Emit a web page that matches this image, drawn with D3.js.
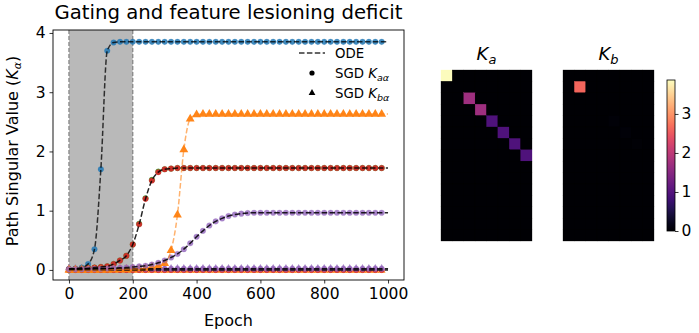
<!DOCTYPE html>
<html><head><meta charset="utf-8">
<script src="https://cdn.jsdelivr.net/npm/d3@7"></script>
<style>
html,body{margin:0;padding:0;background:#fff;}
svg{display:block;font-family:"DejaVu Sans",sans-serif;}
</style></head>
<body>
<svg id="chart" width="699" height="333"></svg>
<script>
// ---------- data ----------
const epochs = [0,20,40,60,80,100,120,140,160,180,200,220,240,260,280,300,320,340,360,380,400,420,440,460,480,500,520,540,560,580,600,620,640,660,680,700,720,740,760,780,800,820,840,860,880,900,920,940,960,980,1000];
const blueVals = [0.01,0.02,0.04,0.1,0.35,1.7,3.7,3.84,3.85,3.85,3.85,3.85,3.85,3.85,3.85,3.85,3.85,3.85,3.85,3.85,3.85,3.85,3.85,3.85,3.85,3.85,3.85,3.85,3.85,3.85,3.85,3.85,3.85,3.85,3.85,3.85,3.85,3.85,3.85,3.85,3.85,3.85,3.85,3.85,3.85,3.85,3.85,3.85,3.85,3.85,3.85];
const redVals = [0.01,0.015,0.02,0.03,0.04,0.05,0.06,0.1,0.16,0.24,0.43,0.77,1.2,1.51,1.65,1.7,1.71,1.72,1.72,1.72,1.72,1.72,1.72,1.72,1.72,1.72,1.72,1.72,1.72,1.72,1.72,1.72,1.72,1.72,1.72,1.72,1.72,1.72,1.72,1.72,1.72,1.72,1.72,1.72,1.72,1.72,1.72,1.72,1.72,1.72,1.72];
const greenVals = [0.01,0.015,0.02,0.03,0.04,0.05,0.06,0.1,0.16,0.24,0.43,0.78,1.21,1.52,1.66,1.7,1.71,1.72,1.72,1.72,1.72,1.72,1.72,1.72,1.72,1.72,1.72,1.72,1.72,1.72,1.72,1.72,1.72,1.72,1.72,1.72,1.72,1.72,1.72,1.72,1.72,1.72,1.72,1.72,1.72,1.72,1.72,1.72,1.72,1.72,1.72];
const orangeVals = [0,0,0,0,0,0,0,0.005,0.01,0.01,0.015,0.02,0.03,0.05,0.07,0.11,0.33,0.93,2.03,2.55,2.62,2.63,2.63,2.63,2.63,2.63,2.63,2.63,2.63,2.63,2.63,2.63,2.63,2.63,2.63,2.63,2.63,2.63,2.63,2.63,2.63,2.63,2.63,2.63,2.63,2.63,2.63,2.63,2.63,2.63,2.63];
const purpleVals = [0.01,0.01,0.012,0.015,0.018,0.02,0.025,0.03,0.035,0.04,0.05,0.06,0.07,0.09,0.12,0.16,0.21,0.27,0.35,0.45,0.56,0.66,0.75,0.82,0.87,0.91,0.935,0.95,0.96,0.965,0.965,0.965,0.965,0.965,0.965,0.965,0.965,0.965,0.965,0.965,0.965,0.965,0.965,0.965,0.965,0.965,0.965,0.965,0.965,0.965,0.965];
const flatPurpleA = [0.02,0.02,0.02,0.02,0.02,0.02,0.02,0.02,0.02,0.02,0.02,0.02,0.02,0.02,0.02,0.02,0.02,0.02,0.02,0.02,0.02,0.02,0.02,0.02,0.02,0.02,0.02,0.02,0.02,0.02,0.02,0.02,0.02,0.02,0.02,0.02,0.02,0.02,0.02,0.02,0.02,0.02,0.02,0.02,0.02,0.02,0.02,0.02,0.02,0.02,0.02];
const flatPurpleB = [0.03,0.03,0.03,0.03,0.03,0.03,0.03,0.03,0.03,0.03,0.03,0.03,0.03,0.03,0.03,0.03,0.03,0.03,0.03,0.03,0.03,0.03,0.03,0.03,0.03,0.03,0.03,0.03,0.03,0.03,0.03,0.03,0.03,0.03,0.03,0.03,0.03,0.03,0.03,0.03,0.03,0.03,0.03,0.03,0.03,0.03,0.03,0.03,0.03,0.03,0.03];
const flatRed = [0,0,0,0,0,0,0,0,0,0,0,0,0,0,0,0,0,0,0,0,0,0,0,0,0,0,0,0,0,0,0,0,0,0,0,0,0,0,0,0,0,0,0,0,0,0,0,0,0,0,0];
const flatOrange = [-0.01,-0.01,-0.01,-0.01,-0.01,-0.01,-0.01,-0.01,-0.01,-0.01,-0.01,-0.01,-0.01,-0.01,-0.01,-0.01,-0.01,-0.01,-0.01,-0.01,-0.01,-0.01,-0.01,-0.01,-0.01,-0.01,-0.01,-0.01,-0.01,-0.01,-0.01,-0.01,-0.01,-0.01,-0.01,-0.01,-0.01,-0.01,-0.01,-0.01,-0.01,-0.01,-0.01,-0.01,-0.01,-0.01,-0.01,-0.01,-0.01,-0.01,-0.01];
const xTicks = [0,200,400,600,800,1000];
const yTicks = [0,1,2,3,4];
const shadeRange = [0,200];
const kaDiag = [3.85,0,1.72,1.72,0.96,0.96,0.96,0.96];
const kbDiag = [0,2.63,0,0,0.05,0.05,0.04,0];
const nRows = 15, nCols = 8;
const cbarTicks = [0,1,2,3];
const cbarMax = 3.87;

// ---------- setup ----------
const svg = d3.select("#chart");
const C = {blue:"#1f77b4",orange:"#ff7f0e",green:"#2ca02c",red:"#d62728",purple:"#9467bd"};
const L = 53, R = 404, T = 30, B = 280;
const x = d3.scaleLinear().domain([-50,1050]).range([L,R]);
const y = d3.scaleLinear().domain([-0.17,4.05]).range([B,T]);
const fmt = d3.format("d");

// title
svg.append("text").attr("x",(L+R)/2).attr("y",19).attr("text-anchor","middle")
  .attr("font-size",19.7).attr("fill","#000").text("Gating and feature lesioning deficit");

// shading
const g = svg.append("g");
g.append("rect").attr("x",x(shadeRange[0])).attr("y",T).attr("width",x(shadeRange[1])-x(shadeRange[0])).attr("height",B-T)
  .attr("fill","#b9b9b9");
shadeRange.forEach(v=>{
  g.append("line").attr("x1",x(v)).attr("x2",x(v)).attr("y1",T).attr("y2",B)
   .attr("stroke","#808080").attr("stroke-width",1.2).attr("stroke-dasharray","4,2");
});

// markers
const mEpochs = epochs.slice(0,epochs.length-1);
function circles(vals,color,op){
  g.append("g").selectAll("circle").data(mEpochs).join("circle")
   .attr("cx",(d)=>x(d)).attr("cy",(d,i)=>y(vals[i])).attr("r",2.8)
   .attr("fill",color).attr("fill-opacity",op).attr("stroke",color).attr("stroke-opacity",op*0.6).attr("stroke-width",0.5);
}
function tris(vals,color,size,op){
  const sym = d3.symbol().type(d3.symbolTriangle).size(size);
  g.append("g").selectAll("path").data(mEpochs).join("path")
   .attr("transform",(d,i)=>`translate(${x(d)},${y(vals[i])})`).attr("d",sym)
   .attr("fill",color).attr("fill-opacity",op);
}
tris(flatOrange,C.orange,26,0.9);
circles(flatRed,C.red,0.9);
tris(flatPurpleB,C.purple,22,0.8);
circles(flatPurpleA,C.purple,0.8);
circles(blueVals,C.blue,0.85);
circles(greenVals,C.green,0.95);
circles(redVals,C.red,0.92);
tris(orangeVals,C.orange,34,0.95);
circles(purpleVals,C.purple,0.8);

// ODE lines
const line = (vals)=>d3.line().x((d)=>x(d)).y((d,i)=>y(vals[i])).curve(d3.curveMonotoneX)(epochs);
function ode(vals,color,op){
  g.append("path").attr("d",line(vals)).attr("fill","none").attr("stroke",color)
   .attr("stroke-opacity",op).attr("stroke-width",1.5).attr("stroke-dasharray","5.5,2.4");
}
ode(flatRed,"#000",0.85);
ode(flatPurpleA,"#000",0.85);
ode(blueVals,"#000",0.75);
ode(redVals,"#000",0.85);
ode(orangeVals,C.orange,0.6);
ode(purpleVals,"#000",0.85);

// axes
const xa = svg.append("g").attr("transform",`translate(0,${B})`)
  .call(d3.axisBottom(x).tickValues(xTicks).tickFormat(fmt).tickSize(3.5).tickPadding(4));
const ya = svg.append("g").attr("transform",`translate(${L},0)`)
  .call(d3.axisLeft(y).tickValues(yTicks).tickFormat(fmt).tickSize(3.5).tickPadding(4));
[xa,ya].forEach(a=>{
  a.select(".domain").remove();
  a.selectAll("text").attr("font-size",15.5).attr("font-family","DejaVu Sans").attr("fill","#000");
  a.selectAll("line").attr("stroke","#000").attr("stroke-width",0.8);
});
svg.append("rect").attr("x",L).attr("y",T).attr("width",R-L).attr("height",B-T)
  .attr("fill","none").attr("stroke","#000").attr("stroke-width",0.9);

svg.append("text").attr("x",(L+R)/2).attr("y",326).attr("text-anchor","middle")
  .attr("font-size",16).text("Epoch");
const yl = svg.append("text").attr("transform","translate(18,151) rotate(-90)").attr("text-anchor","middle").attr("font-size",16);
yl.append("tspan").text("Path Singular Value (");
yl.append("tspan").attr("font-style","italic").text("K");
yl.append("tspan").attr("font-style","italic").attr("font-size",11).attr("dy",3).text("α");
yl.append("tspan").attr("dy",-3).text(")");

// legend
const lg = svg.append("g");
lg.append("line").attr("x1",299).attr("x2",325).attr("y1",53).attr("y2",53)
  .attr("stroke","#000").attr("stroke-opacity",0.8).attr("stroke-width",1.5).attr("stroke-dasharray","5.5,2.4");
lg.append("circle").attr("cx",312).attr("cy",73).attr("r",2.6).attr("fill","#000");
lg.append("path").attr("transform","translate(312,93)").attr("d",d3.symbol().type(d3.symbolTriangle).size(20)).attr("fill","#000");
function legText(yy,parts){
  const t = lg.append("text").attr("x",335).attr("y",yy).attr("font-size",13.3);
  parts(t);
}
legText(58,t=>t.text("ODE"));
legText(78,t=>{ t.append("tspan").text("SGD ");
  t.append("tspan").attr("font-style","italic").text("K");
  t.append("tspan").attr("font-style","italic").attr("font-size",9.5).attr("dy",2.5).text("aα"); });
legText(98,t=>{ t.append("tspan").text("SGD ");
  t.append("tspan").attr("font-style","italic").text("K");
  t.append("tspan").attr("font-style","italic").attr("font-size",9.5).attr("dy",2.5).text("bα"); });

// heatmaps
const color = d3.scaleSequential(d3.interpolateMagma).domain([0,cbarMax]);
function heat(x0,diag,label,sub){
  const hx = d3.scaleBand().domain(d3.range(nCols)).range([x0,x0+91]);
  const hy = d3.scaleBand().domain(d3.range(nRows)).range([70,241]);
  const cells = [];
  for(let r=0;r<nRows;r++) for(let c=0;c<nCols;c++) cells.push({r,c,v:(r===c?diag[c]:0)});
  const hg = svg.append("g");
  hg.append("rect").attr("x",x0).attr("y",70).attr("width",91).attr("height",171).attr("fill",color(0));
  hg.selectAll("rect.cell").data(cells).join("rect").attr("class","cell")
    .attr("x",d=>hx(d.c)).attr("y",d=>hy(d.r)).attr("width",hx.bandwidth()).attr("height",hy.bandwidth())
    .attr("fill",d=>color(d.v)).attr("stroke",d=>color(d.v)).attr("stroke-width",0.3);
  const t = svg.append("text").attr("x",x0+45.5).attr("y",60).attr("text-anchor","middle").attr("font-size",18);
  t.append("tspan").attr("font-style","italic").text(label);
  t.append("tspan").attr("font-style","italic").attr("font-size",13).attr("dy",4).text(sub);
}
heat(441,kaDiag,"K","a");
heat(563,kbDiag,"K","b");

// colorbar
const defs = svg.append("defs");
const grad = defs.append("linearGradient").attr("id","cb").attr("x1",0).attr("x2",0).attr("y1",1).attr("y2",0);
d3.range(0,1.0001,0.05).forEach(s=>grad.append("stop").attr("offset",s).attr("stop-color",d3.interpolateMagma(s)));
const cy = d3.scaleLinear().domain([0,cbarMax]).range([231,80]);
svg.append("rect").attr("x",667).attr("y",80).attr("width",8).attr("height",151).attr("fill","url(#cb)")
  .attr("stroke","#000").attr("stroke-width",0.8);
const ca = svg.append("g").attr("transform","translate(675,0)").call(d3.axisRight(cy).tickValues(cbarTicks).tickFormat(fmt).tickSize(3.5).tickPadding(3));
ca.select(".domain").remove();
ca.selectAll("text").attr("font-size",15.5).attr("font-family","DejaVu Sans").attr("fill","#000");
ca.selectAll("line").attr("stroke","#000").attr("stroke-width",0.8);
</script>
</body></html>
